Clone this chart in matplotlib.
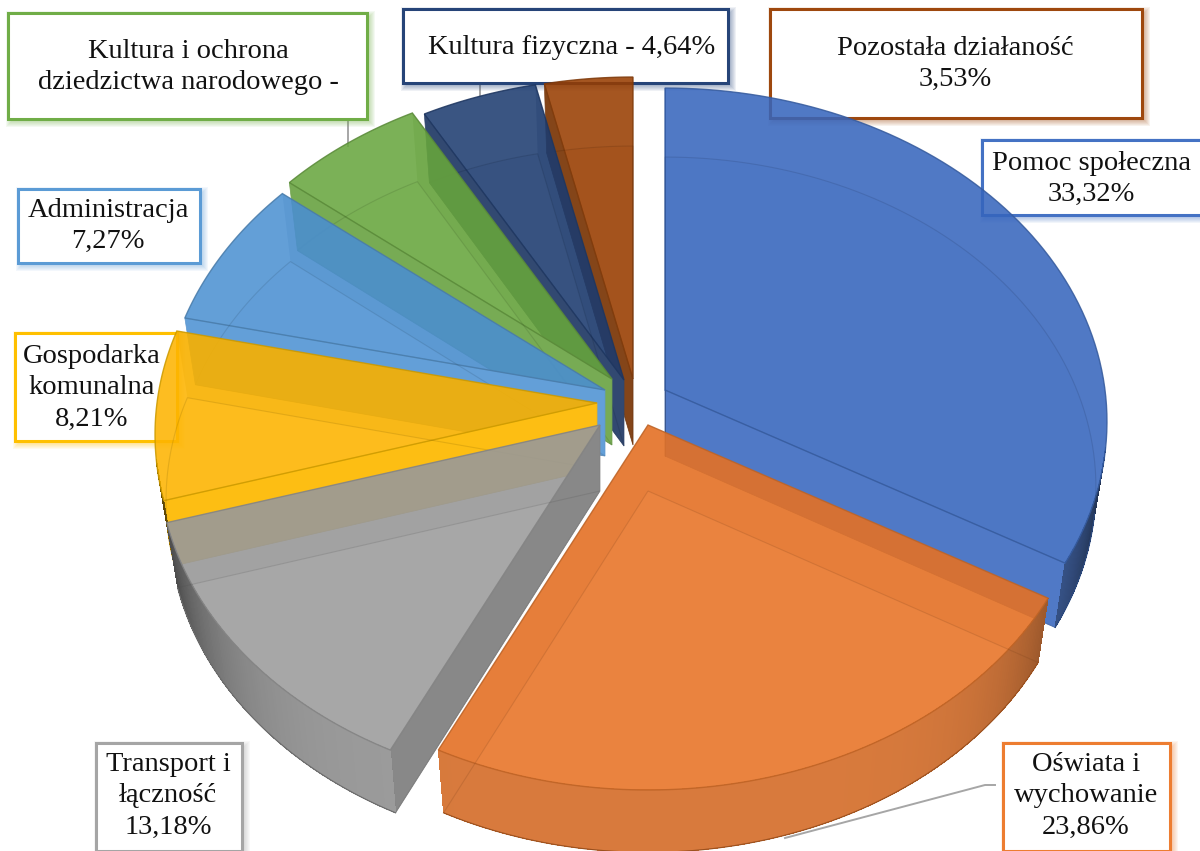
# Exploded 3D pie of budget shares, projected by hand onto a pixel-sized axes
import numpy as np
import matplotlib
matplotlib.use('Agg')
import matplotlib.pyplot as plt
from matplotlib.colors import to_rgb
from matplotlib.patches import Polygon, Rectangle

# -------------------------------
# Data
# -------------------------------
names = ['Pomoc społeczna', 'Oświata i\nwychowanie', 'Transport i\nłączność',
         'Gospodarka\nkomunalna', 'Administracja',
         'Kultura i ochrona\ndziedzictwa narodowego -',
         'Kultura fizyczna - ', 'Pozostała działaność']
values = [33.32, 23.86, 13.18, 8.21, 7.27, 5.99, 4.64, 3.53]
show_value = [True, True, True, True, True, False, True, True]
value_on_same_line = [False, False, False, False, False, False, True, False]
colors = ['#4472C4', '#ED7D31', '#A5A5A5', '#FFC000',
          '#5B9BD5', '#70AD47', '#264478', '#9E480E']
# colour of the top faces as they look on white
top_colors = ['#5079C6', '#EB8542', '#A9A9A9', '#FDBE13',
              '#639FD8', '#7CB257', '#3A5583', '#A5561F']

# -------------------------------
# Layout (pixels)
# -------------------------------
apex = [(665, 390), (648, 425), (600, 425), (597, 403),
        (605, 390), (612, 379), (624, 380), (633, 379)]
boxes = [(982, 140, 1204, 215), (1003, 743, 1170, 851), (96, 743, 242, 851),
         (15, 333, 177, 441), (18, 189, 200, 263), (8, 13, 367, 119),
         (403, 9, 728, 83), (770, 9, 1142, 118)]
label_pos = [(1091, 179), (1086, 796), (168, 796), (92, 388),
             (108, 226), (188, 67), (572, 47), (955, 64)]
leaders = [[(995, 785), (985, 785), (785, 838)],
           [(348, 119), (348, 146)],
           [(480, 83), (480, 96)]]

RX = 440        # horizontal radius
RY = 330.5      # vertical radius
PERSP = 0.0945  # near edge of the pie is drawn larger
DEPTH = 66
BOTTOM_X = 0.975
BOTTOM_Y = 0.99
ALPHA = 0.87

fig = plt.figure(figsize=(12, 8.51), dpi=100)
ax = fig.add_axes([0, 0, 1, 1])
ax.set_xlim(0, 1200)
ax.set_ylim(851, 0)
ax.axis('off')


def shade(color, f):
    return tuple(c * f for c in to_rgb(color))


def under_alpha(color):
    # colour that ends up as "color" when drawn with ALPHA on white
    c = (np.array(to_rgb(color)) - (1 - ALPHA)) / ALPHA
    return tuple(np.clip(c, 0, 1))


def rim(theta, ax0, ay0, bottom=False):
    # theta in degrees, clockwise from the top
    t = np.radians(theta)
    u = np.sin(t)
    v = -np.cos(t)
    p = 1 / (1 - PERSP * v)
    dx = RX * u * p
    dy = RY * v * p
    if bottom:
        return ax0 + dx * BOTTOM_X, ay0 + DEPTH + dy * BOTTOM_Y
    return ax0 + dx, ay0 + dy


def wedge_points(a0, a1, ax0, ay0, bottom=False):
    th = np.linspace(a0, a1, 80)
    x, y = rim(th, ax0, ay0, bottom)
    tip = (ax0, ay0 + DEPTH if bottom else ay0)
    return np.vstack([[tip], np.column_stack([x, y])])


# cumulative angles, clockwise from the top
angles = np.cumsum([0] + values) / sum(values) * 360


def draw_slice(i, z):
    a0, a1 = angles[i], angles[i + 1]
    ax0, ay0 = apex[i]
    col = colors[i]
    top = top_colors[i]

    # bottom face is only a faint fill
    pts = wedge_points(a0, a1, ax0, ay0, True)
    ax.add_patch(Polygon(pts, closed=True, facecolor=col, edgecolor='none',
                         alpha=0.12, zorder=z))

    # flat walls on both sides of the slice
    for a, side in ((a1, 1), (a0, -1)):
        xt, yt = rim(a, ax0, ay0)
        xb, yb = rim(a, ax0, ay0, True)
        wall = [(ax0, ay0), (xt, yt), (xb, yb), (ax0, ay0 + DEPTH)]
        phi = (a + side * 90) % 360
        if np.cos(np.radians(phi)) < 0:
            f = 1 - 0.2 * np.clip((abs(phi - 185) - 25) / 45, 0, 1)
            ax.add_patch(Polygon(wall, closed=True, facecolor=shade(top, f),
                                 edgecolor=shade(top, f * 0.95), lw=0.5,
                                 zorder=z + 0.1))
        else:
            ax.add_patch(Polygon(wall, closed=True, facecolor=shade(col, 0.5),
                                 edgecolor='none', alpha=0.27, zorder=z + 0.1))

    # outer curved wall by small steps; the far side stays hidden
    th = np.linspace(a0, a1, int(a1 - a0) * 2 + 2)
    for t0, t1 in zip(th[:-1], th[1:]):
        tm = np.radians((t0 + t1) / 2)
        if np.cos(tm) > -0.17:
            continue
        x0, y0 = rim(t0, ax0, ay0)
        x1, y1 = rim(t1, ax0, ay0)
        x2, y2 = rim(t1, ax0, ay0, True)
        x3, y3 = rim(t0, ax0, ay0, True)
        f = 0.92 - 0.6 * abs(np.sin(tm)) ** 6
        ax.add_patch(Polygon([(x0, y0), (x1, y1), (x2, y2), (x3, y3)], closed=True,
                             facecolor=shade(top, f), edgecolor='none', lw=0,
                             antialiased=False, zorder=z + 0.2))

    # smooth edge along the lower rim of the wall
    lo, hi = max(a0, 100), min(a1, 260)
    if hi > lo:
        xr, yr = rim(np.linspace(lo, hi, 80), ax0, ay0, True)
        ax.plot(xr, yr, color=shade(col, 0.7), lw=0.8, zorder=z + 0.25)

    # top face
    ax.add_patch(Polygon(wedge_points(a0, a1, ax0, ay0), closed=True,
                         facecolor=under_alpha(top), edgecolor=shade(col, 0.8), lw=1.0,
                         alpha=ALPHA, zorder=z + 0.3))

    # bottom outline, seen faintly through the top
    ax.add_patch(Polygon(pts, closed=True, fill=False, edgecolor=shade(col, 0.45),
                         lw=0.8, alpha=0.18, zorder=z + 0.35))


# -------------------------------
# Leader lines and label boxes go under the slices
# -------------------------------
for pts in leaders:
    xs, ys = zip(*pts)
    ax.plot(xs, ys, color='#a6a6a6', lw=1.4, zorder=0.5)

for i, (x0, y0, x1, y1) in enumerate(boxes):
    for k in range(6):
        ax.add_patch(Rectangle((x0 + 3 - k, y0 + 3 - k), x1 - x0 + 2 * k, y1 - y0 + 2 * k,
                               facecolor=colors[i], edgecolor='none', alpha=0.07,
                               zorder=0.6))
    ax.add_patch(Rectangle((x0, y0), x1 - x0, y1 - y0, facecolor='white',
                           edgecolor=colors[i], lw=2.2, zorder=1))

# -------------------------------
# Slices, back to front
# -------------------------------
draw_order = [7, 6, 5, 4, 3, 2, 0, 1]
for n, i in enumerate(draw_order):
    draw_slice(i, 2 + n)

# -------------------------------
# Label text stays on top of everything
# -------------------------------
for i, name in enumerate(names):
    text = name
    if show_value[i]:
        val = f'{values[i]:.2f}'.replace('.', ',') + '%'
        text = name + val if value_on_same_line[i] else name + '\n' + val
    ax.text(label_pos[i][0], label_pos[i][1], text, ha='center', va='center',
            family='Liberation Serif', fontsize=20.5, color='#111111',
            linespacing=1.32, zorder=30)

plt.savefig('out.png', dpi=100)
